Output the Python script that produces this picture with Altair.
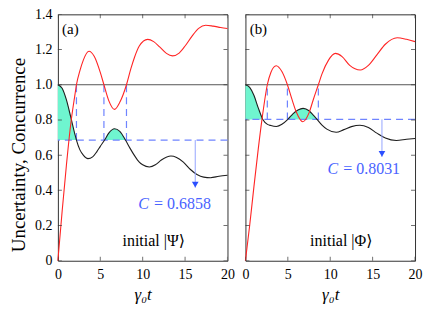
import altair as alt
import pandas as pd

# ---------------- data ----------------
x_ticks = [0, 5, 10, 15, 20]
y_ticks = [0, 0.2, 0.4, 0.6, 0.8, 1.0, 1.2, 1.4]

# panel (a): initial |Psi>
a_red_t = [0, 0.5, 1.0, 1.5, 2.0, 2.19, 2.6, 3.0, 3.67, 4.3, 5.0, 5.43, 6.0, 6.68, 7.3, 8.09,
           8.6, 9.03, 9.6, 10.59, 11.3, 12.0, 12.8, 13.52, 14.3, 15.0, 15.8, 16.6, 17.43, 18.3, 19.2, 20]
a_red_y = [0.0, 0.28, 0.54, 0.77, 0.94, 1.0, 1.08, 1.14, 1.19, 1.16, 1.07, 1.0, 0.91, 0.86, 0.9, 1.0,
           1.09, 1.155, 1.22, 1.258, 1.245, 1.215, 1.178, 1.164, 1.18, 1.22, 1.275, 1.32, 1.338, 1.333, 1.325, 1.319]
a_blk_t = [0, 0.5, 1.0, 1.5, 2.0, 2.19, 2.6, 3.0, 3.55, 4.1, 4.6, 5.0, 5.51, 6.0, 6.68, 7.3, 7.97,
           8.5, 9.0, 9.6, 10.0, 10.79, 11.5, 12.2, 13.33, 14.0, 14.8, 15.6, 16.4, 17.2, 18.0, 19.0, 20]
a_blk_y = [1.0, 0.98, 0.915, 0.82, 0.72, 0.6858, 0.63, 0.6, 0.58, 0.59, 0.62, 0.65, 0.6858, 0.725, 0.75, 0.735, 0.6858,
           0.64, 0.6, 0.56, 0.545, 0.533, 0.545, 0.572, 0.595, 0.587, 0.56, 0.52, 0.49, 0.475, 0.472, 0.48, 0.486]
a_C = 0.6858
a_cross = [2.19, 5.43, 8.09]
a_arrow = [16.2, 0.415]
a_ctext = [11.1, 0.324]

# panel (b): initial |Phi>
b_red_t = [0, 0.5, 1.0, 1.5, 2.0, 2.58, 3.0, 3.63, 4.3, 4.95, 5.5, 6.0, 6.76, 7.5, 8.0, 8.6,
           9.03, 9.8, 10.6, 11.4, 12.3, 13.55, 14.5, 15.5, 16.5, 17.9, 19.0, 20]
b_red_y = [0.0, 0.2, 0.42, 0.63, 0.82, 1.0, 1.07, 1.108, 1.075, 1.0, 0.915, 0.845, 0.79, 0.84, 0.915, 1.0,
           1.062, 1.14, 1.178, 1.16, 1.11, 1.084, 1.11, 1.17, 1.23, 1.267, 1.258, 1.245]
b_blk_t = [0, 0.5, 1.0, 1.5, 2.05, 2.6, 3.0, 3.65, 4.3, 5.0, 5.6, 6.2, 6.8, 7.5, 8.0, 8.44,
           9.0, 9.6, 10.7, 11.6, 12.5, 13.5, 14.5, 15.5, 16.5, 17.8, 19.0, 20]
b_blk_y = [1.0, 0.985, 0.94, 0.87, 0.8031, 0.775, 0.768, 0.763, 0.775, 0.8031, 0.835, 0.857, 0.866, 0.852, 0.827, 0.8031,
           0.772, 0.748, 0.73, 0.745, 0.762, 0.77, 0.757, 0.725, 0.697, 0.683, 0.69, 0.695]
b_C = 0.8031
b_cross = [2.58, 4.95, 8.6]
b_arrow = [16.1, 0.59]
b_ctext = [11.3, 0.524]

SERIF = "Liberation Serif, DejaVu Serif, serif"
RED = "#ff2424"
BLACK = "#1e1e1e"
BLUE_DASH = "#6f84ff"
BLUE_TXT = "#4963ff"
FILL = "#6ff5cf"
PW, PH = 170, 247
T_LO, T_HI, Y_LO, Y_HI = 0, 20, 0, 1.4


def panel(tag, state, red_t, red_y, blk_t, blk_y, C, cross, arrow, ctext, show_y):
    xs = alt.Scale(domain=[T_LO, T_HI], nice=False, zero=False)
    ys = alt.Scale(domain=[Y_LO, Y_HI], nice=False, zero=False)
    xaxis = alt.Axis(values=x_ticks, format="d", ticks=False, domain=False, grid=False,
                     labelFont=SERIF, labelFontSize=14, labelColor="black", labelPadding=7,
                     labelFlush=False, labelOverlap=False,
                     title="γ₀t", titleFont=SERIF, titleFontSize=17,
                     titleFontStyle="italic", titleFontWeight="normal", titleColor="black",
                     titlePadding=5)
    if show_y:
        yaxis = alt.Axis(values=y_ticks, ticks=False, domain=False, grid=False,
                         labelExpr="datum.value == 0 ? '0' : format(datum.value, '.1f')",
                         labelFont=SERIF, labelFontSize=14, labelColor="black", labelPadding=6,
                         labelOverlap=False, labelFlush=False,
                         minExtent=26, maxExtent=26,
                         title="Uncertainty, Concurrence", titleFont=SERIF, titleFontSize=19,
                         titleFontWeight="normal", titleColor="black", titlePadding=3,
                         titleY=PH / 2 + 17)
    else:
        yaxis = None
    X = lambda f: alt.X(f, type="quantitative", scale=xs, axis=xaxis)
    Y = lambda f: alt.Y(f, type="quantitative", scale=ys, axis=yaxis)

    red = pd.DataFrame({"t": red_t, "y": red_y})
    blk = pd.DataFrame({"t": blk_t, "y": blk_y})

    # fill region where the concurrence-line exceeds C
    rows, seg, prev = [], -1, False
    for t, y in zip(blk_t, blk_y):
        inside = y >= C - 1e-9
        if inside:
            if not prev:
                seg += 1
            rows.append({"t": t, "y": y, "c": C, "seg": seg})
        prev = inside
    fill = pd.DataFrame(rows)

    area = alt.Chart(fill).mark_area(interpolate="monotone", color=FILL, opacity=1).encode(
        x=X("t"), y=Y("y"), y2="c", detail="seg:N")
    one = alt.Chart(pd.DataFrame({"y": [1.0]})).mark_rule(color="#555555", strokeWidth=1).encode(y=Y("y"))
    hdash = alt.Chart(pd.DataFrame({"y": [C]})).mark_rule(
        color=BLUE_DASH, strokeWidth=1.2, strokeDash=[7, 5]).encode(y=Y("y"))
    vdash = alt.Chart(pd.DataFrame({"t": cross, "y": [C] * len(cross), "y2": [1.0] * len(cross)})).mark_rule(
        color=BLUE_DASH, strokeWidth=1.2, strokeDash=[7, 5]).encode(x=X("t"), y=Y("y"), y2="y2")
    bline = alt.Chart(blk).mark_line(interpolate="monotone", color=BLACK, strokeWidth=1.1).encode(
        x=X("t"), y=Y("y"))
    rline = alt.Chart(red).mark_line(interpolate="monotone", color=RED, strokeWidth=1.1).encode(
        x=X("t"), y=Y("y"))
    arr = pd.DataFrame({"t": [arrow[0]], "y": [C], "y2": [arrow[1]]})
    arrow_line = alt.Chart(arr).mark_rule(color="#95a5ff", strokeWidth=1).encode(
        x=X("t"), y=Y("y"), y2="y2")
    arrow_head = alt.Chart(arr).mark_point(shape="triangle-down", filled=True, size=45,
                                           color="#2b4fff", opacity=1, yOffset=-3).encode(
        x=X("t"), y=Y("y2"))
    ct = pd.DataFrame({"t": [ctext[0]], "y": [ctext[1]]})
    c_italic = alt.Chart(ct).mark_text(text="C", font=SERIF, fontSize=16, fontStyle="italic",
                                       color=BLUE_TXT, align="right", baseline="middle", dx=-3).encode(
        x=X("t"), y=Y("y"))
    c_value = alt.Chart(ct.assign(s=["= " + format(C, ".4f")])).mark_text(
        font=SERIF, fontSize=16, color=BLUE_TXT, align="left", baseline="middle", dx=2).encode(
        x=X("t"), y=Y("y"), text="s:N")
    lab = alt.Chart(pd.DataFrame({"t": [0.5], "y": [1.318], "s": [tag]})).mark_text(
        font=SERIF, fontSize=15, color="black", align="left", baseline="middle").encode(
        x=X("t"), y=Y("y"), text="s:N")
    init = alt.Chart(pd.DataFrame({"t": [11.3], "y": [0.113], "s": ["initial |" + state + "⟩"]})).mark_text(
        font=SERIF, fontSize=16, color="black", align="center", baseline="middle").encode(
        x=X("t"), y=Y("y"), text="s:N")

    # inward ticks on all four sides (tick marks centred on the frame, outer half clipped)
    ytk = pd.DataFrame({"y": y_ticks, "xl": [T_LO] * len(y_ticks), "xr": [T_HI] * len(y_ticks)})
    xtk = pd.DataFrame({"t": x_ticks, "yb": [Y_LO] * len(x_ticks), "yt": [Y_HI] * len(x_ticks)})
    tk = dict(size=8, thickness=1, color="#333", clip=True)
    tick_l = alt.Chart(ytk).mark_tick(orient="horizontal", **tk).encode(y=Y("y"), x=X("xl"))
    tick_r = alt.Chart(ytk).mark_tick(orient="horizontal", **tk).encode(y=Y("y"), x=X("xr"))
    tick_b = alt.Chart(xtk).mark_tick(orient="vertical", **tk).encode(x=X("t"), y=Y("yb"))
    tick_t = alt.Chart(xtk).mark_tick(orient="vertical", **tk).encode(x=X("t"), y=Y("yt"))

    return alt.layer(area, one, hdash, vdash, bline, rline, arrow_line, arrow_head,
                     c_italic, c_value, lab, init, tick_l, tick_r, tick_b, tick_t).properties(
        width=PW, height=PH)


pa = panel("(a)", "Ψ", a_red_t, a_red_y, a_blk_t, a_blk_y, a_C, a_cross, a_arrow, a_ctext, True)
pb = panel("(b)", "Φ", b_red_t, b_red_y, b_blk_t, b_blk_y, b_C, b_cross, b_arrow, b_ctext, False)

chart = alt.hconcat(pa, pb, spacing=18, bounds="flush").properties(
    padding={"left": 1, "top": -2, "right": 0, "bottom": 0},
    background="white",
).configure_view(stroke="#333333", strokeWidth=1).configure_axis(labelOverlap=False)

chart.save("out.html", embed_options={"renderer": "svg", "actions": False})
